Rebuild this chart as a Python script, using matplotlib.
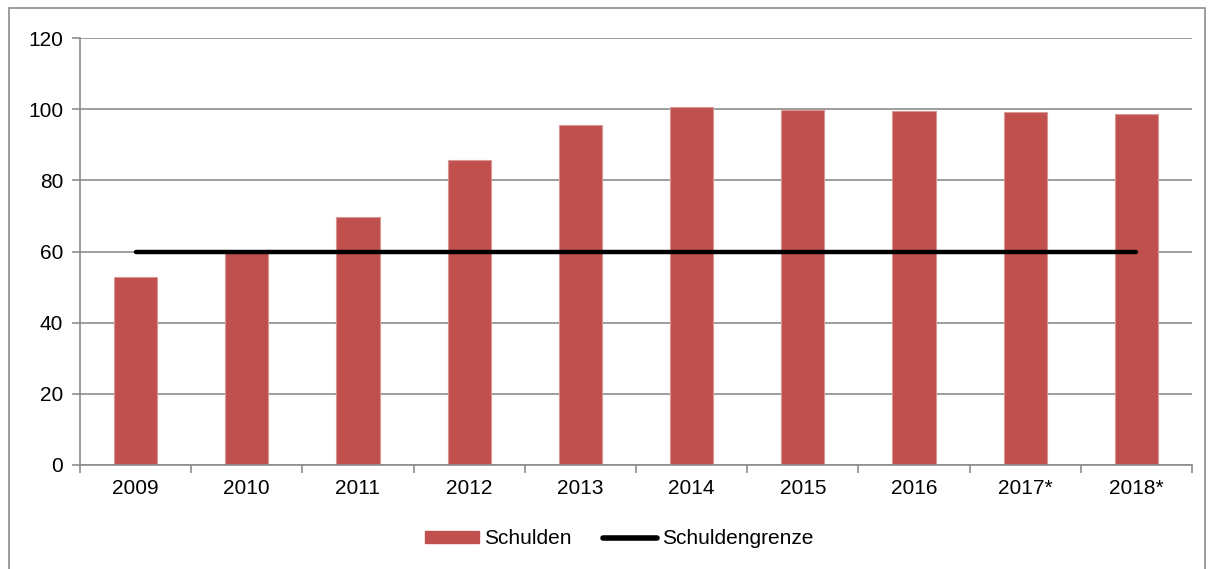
import matplotlib.pyplot as plt
import matplotlib.patches as mpatches
from matplotlib.lines import Line2D
import numpy as np

plt.rcParams['font.family'] = ['Liberation Sans', 'DejaVu Sans']

# data
years = ["2009", "2010", "2011", "2012", "2013", "2014", "2015", "2016", "2017*", "2018*"]
schulden = [52.8, 59.5, 69.6, 85.7, 95.6, 100.5, 99.9, 99.5, 99.2, 98.6]
schuldengrenze = [60, 60, 60, 60, 60, 60, 60, 60, 60, 60]
yticks = [0, 20, 40, 60, 80, 100, 120]

bar_color = "#C0504D"
grid_color = "#8C8C8C"

fig = plt.figure(figsize=(12.09, 5.69), dpi=100)
ax = fig.add_axes([80 / 1209, 1 - 465 / 569, 1112 / 1209, 427 / 569])

x = np.arange(len(years))
ax.bar(x, schulden, width=0.39, color=bar_color, edgecolor="#D99694", linewidth=0.8, zorder=2)
ax.plot(x, schuldengrenze, color="black", linewidth=3.2, solid_capstyle="round", zorder=3)

ax.set_xlim(-0.5, len(years) - 0.5)
ax.set_ylim(0, 120)
ax.set_yticks(yticks)
ax.set_yticklabels([str(v) for v in yticks], fontsize=15)
ax.yaxis.grid(True, color=grid_color, linewidth=1.2, zorder=0)
ax.set_axisbelow(True)

# category labels centred, tick marks on the boundaries
ax.set_xticks(x)
ax.set_xticklabels(years, fontsize=15)
ax.tick_params(axis="x", length=0, pad=10)
ax.set_xticks(np.arange(len(years) + 1) - 0.5, minor=True)
ax.tick_params(axis="x", which="minor", length=6, width=1.2, color=grid_color)
ax.tick_params(axis="y", length=6, width=1.2, color=grid_color, pad=6)

for side in ["top", "right"]:
    ax.spines[side].set_visible(False)
ax.spines["left"].set_color(grid_color)
ax.spines["bottom"].set_color(grid_color)
ax.spines["left"].set_linewidth(1.2)
ax.spines["bottom"].set_linewidth(1.2)

handles = [mpatches.Patch(color=bar_color, label="Schulden"),
           Line2D([], [], color="black", linewidth=4, solid_capstyle="round", label="Schuldengrenze")]
leg = fig.legend(handles=handles, loc="center", bbox_to_anchor=(619 / 1209, 1 - 539 / 569),
                 ncol=2, frameon=False, fontsize=15, handlelength=2.6, handleheight=0.55,
                 handletextpad=0.25, columnspacing=1.5)

# outer chart frame
fig.patches.append(mpatches.Rectangle((9 / 1209, -0.01), 1196 / 1209, 1 - 8 / 569 + 0.01,
                                      transform=fig.transFigure, fill=False,
                                      edgecolor=grid_color, linewidth=1.2))

fig.savefig("out.png", dpi=100)
